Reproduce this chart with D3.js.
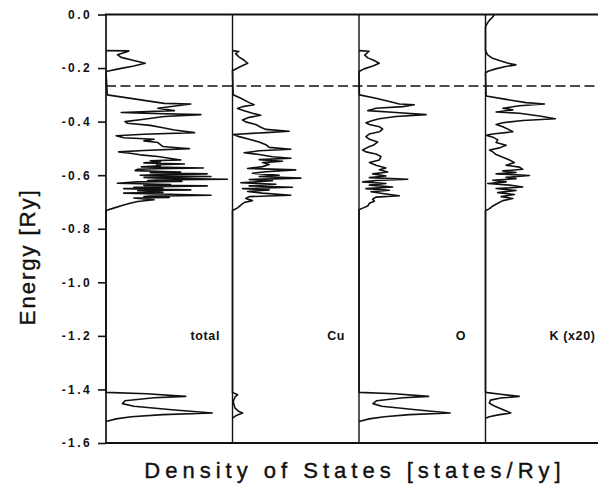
<!DOCTYPE html>
<html>
<head>
<meta charset="utf-8">
<script src="https://cdn.jsdelivr.net/npm/d3@7"></script>
<style>
  body { margin: 0; background: #fff; }
  svg text { font-family: "Liberation Sans", Arial, sans-serif; fill: #111; }
</style>
</head>
<body>
<div id="chart"></div>
<script>
// Partial densities of states, energy in Ry vs DOS (arbitrary units, panel width = 100)

const panels = ["total", "Cu", "O", "K"];
const panelLabels = ["total", "Cu", "O", "K (x20)"];
const energyTicks = [0, -0.2, -0.4, -0.6, -0.8, -1.0, -1.2, -1.4, -1.6];
const fermiEnergy = -0.267;

// [energy, dos]
const totalDos = [
    [-0.135, 0], [-0.136, 18], [-0.140, 16], [-0.150, 9], [-0.160, 12], [-0.172, 22], [-0.182, 31], [-0.192, 22], [-0.202, 11], [-0.213, 0],
    [-0.300, 1], [-0.332, 46], [-0.334, 67], [-0.350, 41], [-0.359, 54], [-0.366, 12], [-0.369, 30], [-0.374, 75], [-0.381, 46], [-0.391, 30],
    [-0.400, 15], [-0.406, 17], [-0.414, 35], [-0.421, 43], [-0.431, 54], [-0.441, 70], [-0.447, 30], [-0.453, 8], [-0.460, 14], [-0.466, 38],
    [-0.472, 30], [-0.478, 41], [-0.493, 45], [-0.501, 66], [-0.508, 30], [-0.513, 10], [-0.518, 19], [-0.524, 27], [-0.530, 41],
    [-0.543, 59], [-0.546, 35], [-0.550, 43], [-0.554, 30], [-0.558, 62], [-0.561, 40], [-0.565, 43], [-0.569, 28], [-0.573, 77], [-0.576, 40],
    [-0.578, 25], [-0.583, 23], [-0.586, 45], [-0.588, 59], [-0.591, 35], [-0.595, 80], [-0.598, 45], [-0.600, 27], [-0.603, 55], [-0.605, 83],
    [-0.608, 30], [-0.610, 38], [-0.613, 60], [-0.615, 96], [-0.618, 40], [-0.620, 33], [-0.623, 60], [-0.625, 25], [-0.630, 9], [-0.633, 35],
    [-0.635, 51], [-0.638, 30], [-0.640, 80], [-0.643, 40], [-0.645, 22], [-0.648, 45], [-0.650, 14], [-0.653, 40], [-0.655, 67], [-0.658, 25],
    [-0.660, 33], [-0.664, 45], [-0.667, 14], [-0.671, 50], [-0.675, 83], [-0.678, 35], [-0.680, 30], [-0.683, 50], [-0.685, 22], [-0.689, 30],
    [-0.692, 38], [-0.698, 25], [-0.705, 19], [-0.711, 14], [-0.723, 6], [-0.732, 0],
    [-1.411, 0], [-1.416, 32], [-1.426, 63], [-1.431, 38], [-1.442, 15], [-1.453, 13], [-1.463, 22], [-1.476, 52], [-1.488, 84], [-1.494, 45],
    [-1.502, 20], [-1.510, 8], [-1.520, 0]
];

const cuDos = [
    [-0.135, 0], [-0.138, 5], [-0.146, 2.5], [-0.158, 5], [-0.170, 9], [-0.182, 12], [-0.195, 6], [-0.210, 0],
    [-0.300, 0.5], [-0.313, 6.6], [-0.329, 13.2], [-0.337, 17.1], [-0.344, 7.9], [-0.351, 4], [-0.359, 9.2], [-0.369, 15.8], [-0.376, 22.4],
    [-0.384, 13.2], [-0.394, 7.9], [-0.401, 10.5], [-0.411, 18.4], [-0.421, 22.4], [-0.429, 26.4], [-0.436, 44.8], [-0.441, 26.4], [-0.448, 0.5],
    [-0.456, 5.3], [-0.466, 13.2], [-0.476, 21.1], [-0.486, 26.4], [-0.496, 29], [-0.503, 46.1], [-0.509, 21.1], [-0.516, 9.2], [-0.523, 21.1],
    [-0.531, 31.6], [-0.537, 46.1], [-0.542, 21.1], [-0.548, 39.5], [-0.553, 23.7], [-0.560, 29], [-0.568, 23.7], [-0.575, 11.9], [-0.580, 50],
    [-0.587, 26.4], [-0.593, 15.8], [-0.600, 36.9], [-0.605, 21.1], [-0.611, 54], [-0.616, 13.2], [-0.621, 31.6], [-0.628, 6.6], [-0.634, 34.3],
    [-0.640, 13.2], [-0.645, 47.4], [-0.650, 7.9], [-0.655, 29], [-0.661, 11.9], [-0.667, 23.7], [-0.675, 46.1], [-0.680, 13.2], [-0.687, 10.5],
    [-0.695, 15.8], [-0.702, 9.2], [-0.712, 6.6], [-0.722, 4], [-0.732, 0],
    [-1.411, 0], [-1.420, 4], [-1.428, 2], [-1.445, 0.5], [-1.470, 2], [-1.482, 5], [-1.488, 8], [-1.497, 3], [-1.507, 0]
];

const oDos = [
    [-0.135, 0], [-0.137, 8], [-0.141, 7], [-0.152, 4.5], [-0.162, 7], [-0.172, 12], [-0.182, 16], [-0.192, 11], [-0.203, 4], [-0.213, 0],
    [-0.300, 0.3], [-0.313, 13.4], [-0.325, 24], [-0.334, 31.9], [-0.337, 43.7], [-0.344, 34.5], [-0.350, 13.4], [-0.359, 6.9], [-0.366, 29.2],
    [-0.374, 53], [-0.381, 29.2], [-0.389, 16.1], [-0.396, 10.8], [-0.404, 5.5], [-0.411, 8.2], [-0.419, 16.1], [-0.428, 18.7], [-0.438, 16.1],
    [-0.446, 8.2], [-0.456, 5.5], [-0.466, 8.2], [-0.476, 14.8], [-0.486, 12.1], [-0.496, 6.9], [-0.506, 2.9], [-0.513, 5.5], [-0.521, 13.4],
    [-0.530, 17.4], [-0.543, 16.1], [-0.553, 8.2], [-0.563, 13.4], [-0.573, 21.3], [-0.580, 16.1], [-0.588, 22.7], [-0.595, 10.8], [-0.603, 21.3],
    [-0.609, 8.2], [-0.615, 38.5], [-0.620, 13.4], [-0.625, 2.9], [-0.631, 21.3], [-0.637, 8.2], [-0.644, 26.6], [-0.650, 5.5], [-0.656, 24],
    [-0.662, 9.5], [-0.670, 21.3], [-0.677, 31.9], [-0.682, 13.4], [-0.690, 10.8], [-0.697, 12.1], [-0.705, 8.2], [-0.715, 6.9], [-0.723, 2.9],
    [-0.729, 0],
    [-1.411, 0], [-1.416, 28], [-1.426, 55], [-1.431, 35], [-1.442, 14], [-1.453, 11], [-1.463, 18], [-1.476, 45], [-1.488, 72], [-1.494, 40],
    [-1.502, 20], [-1.510, 8], [-1.520, 0]
];

const kDos = [
    [0.0, 7], [-0.010, 5.5], [-0.020, 3.5], [-0.030, 1.8], [-0.040, 0.6], [-0.047, 0],
    [-0.135, 0], [-0.150, 1.5], [-0.162, 5], [-0.172, 11], [-0.182, 18], [-0.188, 24], [-0.194, 16], [-0.203, 8], [-0.212, 2], [-0.218, 0],
    [-0.304, 0.5], [-0.317, 16.3], [-0.329, 32.1], [-0.334, 46.6], [-0.341, 26.9], [-0.350, 13.7], [-0.356, 21.6], [-0.364, 8.4], [-0.369, 26.9],
    [-0.379, 42.7], [-0.389, 55.3], [-0.396, 29.5], [-0.404, 13.7], [-0.411, 8.4], [-0.419, 13.7], [-0.428, 17.7], [-0.438, 21.6], [-0.446, 5.8],
    [-0.451, 0.5], [-0.458, 5.8], [-0.468, 9.7], [-0.478, 8.4], [-0.488, 16.3], [-0.498, 11.1], [-0.506, 3.2], [-0.513, 5.8], [-0.523, 8.4],
    [-0.533, 13.7], [-0.543, 19], [-0.553, 22.9], [-0.563, 16.3], [-0.570, 26.9], [-0.578, 29.5], [-0.584, 13.7], [-0.590, 24.2], [-0.595, 8.4],
    [-0.601, 34.8], [-0.608, 16.3], [-0.613, 24.2], [-0.619, 5.8], [-0.625, 16.3], [-0.631, 1.8], [-0.637, 19], [-0.644, 29.5], [-0.650, 8.4],
    [-0.657, 24.2], [-0.665, 9.7], [-0.672, 22.9], [-0.680, 12.4], [-0.687, 21.6], [-0.695, 13.7], [-0.705, 9.7], [-0.715, 5.8], [-0.725, 3.2],
    [-0.733, 0],
    [-1.411, 0], [-1.418, 12], [-1.426, 26.6], [-1.432, 12], [-1.440, 4], [-1.451, 3], [-1.462, 7], [-1.476, 14], [-1.488, 20], [-1.495, 10],
    [-1.502, 3], [-1.508, 0]
];

const panelData = [totalDos, cuDos, oDos, kDos];

const W = 598, H = 489;
const plotLeft = 106, plotTop = 14.5, plotBottom = 443;
const panelWidth = 126.5;
const labelRight = [114, 112.5, 107, 110];   // label end, from panel left

const svg = d3.select("#chart").append("svg")
    .attr("width", W)
    .attr("height", H);

// Scales
const y = d3.scaleLinear()
    .domain([0, -1.6])
    .range([plotTop, plotBottom]);

const band = d3.scaleBand()
    .domain(panels)
    .range([plotLeft, plotLeft + panelWidth * panels.length])
    .paddingInner(0).paddingOuter(0);

const x = d3.scaleLinear()
    .domain([0, 100])
    .range([0, panelWidth]);

// Fermi level
svg.append("line")
    .attr("x1", plotLeft).attr("x2", W)
    .attr("y1", y(fermiEnergy)).attr("y2", y(fermiEnergy))
    .attr("stroke", "#111")
    .attr("stroke-width", 1.7)
    .attr("stroke-dasharray", "10,4.5");

// Panels
const line = d3.line()
    .x(d => x(d[1]))
    .y(d => y(d[0]));

panels.forEach((p, i) => {
    const g = svg.append("g")
        .attr("transform", `translate(${band(p)},0)`);

    g.append("line")
        .attr("x1", 0).attr("x2", 0)
        .attr("y1", plotTop).attr("y2", plotBottom)
        .attr("stroke", "#111")
        .attr("stroke-width", i === 0 ? 1.7 : 1.4);

    g.append("path")
        .datum(panelData[i])
        .attr("fill", "none")
        .attr("stroke", "#111")
        .attr("stroke-width", 1.6)
        .attr("stroke-linejoin", "round")
        .attr("d", line);

    g.append("text")
        .attr("x", labelRight[i])
        .attr("y", y(-1.2) + 4.5)
        .attr("text-anchor", "end")
        .attr("font-size", 12.5)
        .attr("font-weight", "bold")
        .attr("letter-spacing", 0.6)
        .text(panelLabels[i]);
});

// Top and bottom frame lines
[plotTop, plotBottom].forEach(yy => {
    svg.append("line")
        .attr("x1", plotLeft - 1).attr("x2", W)
        .attr("y1", yy).attr("y2", yy)
        .attr("stroke", "#111")
        .attr("stroke-width", 2.2);
});

// Energy axis
const yAxis = svg.append("g")
    .attr("transform", `translate(${plotLeft},0)`)
    .call(d3.axisLeft(y)
        .tickValues(energyTicks)
        .tickFormat(d => d.toFixed(1))
        .tickSize(8)
        .tickPadding(6));
yAxis.select(".domain").remove();
yAxis.selectAll(".tick line").attr("stroke", "#111").attr("stroke-width", 1.6);
yAxis.selectAll(".tick text")
    .attr("font-family", "Liberation Sans, Arial, sans-serif")
    .attr("font-size", 12)
    .attr("font-weight", "bold")
    .attr("letter-spacing", 2.4)
    .attr("fill", "#111");

// Axis titles
svg.append("text")
    .attr("transform", `translate(35,${(plotTop + plotBottom) / 2 + 28}) rotate(-90)`)
    .attr("text-anchor", "middle")
    .attr("font-size", 22)
    .attr("letter-spacing", 2)
    .attr("stroke", "#111")
    .attr("stroke-width", 0.4)
    .text("Energy [Ry]");

svg.append("text")
    .attr("x", 355)
    .attr("y", 478)
    .attr("text-anchor", "middle")
    .attr("font-size", 22)
    .attr("letter-spacing", 5)
    .attr("stroke", "#111")
    .attr("stroke-width", 0.4)
    .text("Density of States [states/Ry]");
</script>
</body>
</html>
